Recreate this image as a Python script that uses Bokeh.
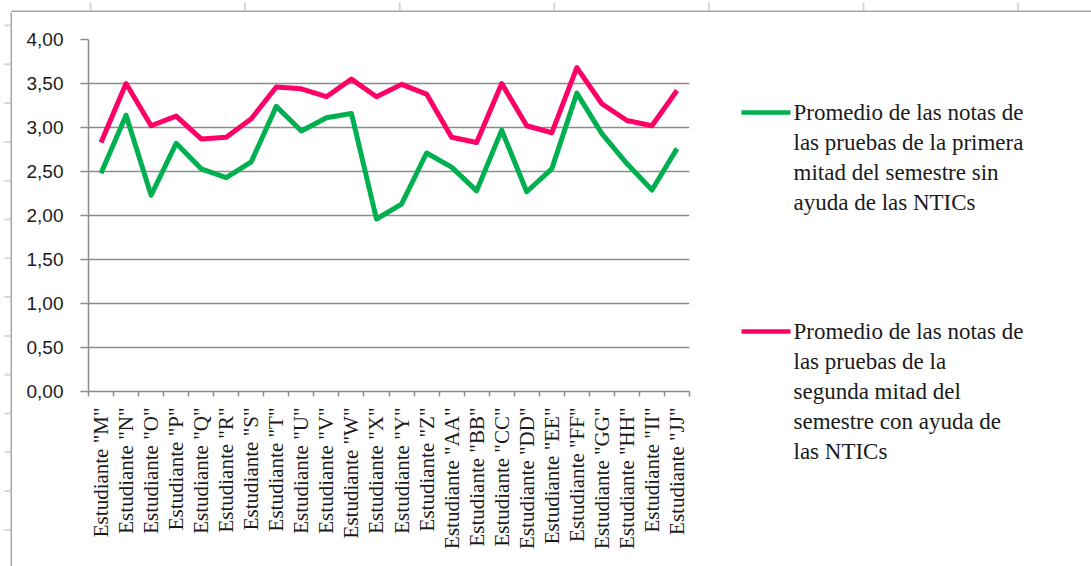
import math

from bokeh.plotting import figure
from bokeh.layouts import column, row
from bokeh.models import FixedTicker, Grid, LinearAxis, Range1d
from bokeh.core.properties import value
from bokeh.embed import file_html
from bokeh.resources import INLINE

# ---- data -------------------------------------------------------------
students = ["M", "N", "O", "P", "Q", "R", "S", "T", "U", "V", "W", "X",
            "Y", "Z", "AA", "BB", "CC", "DD", "EE", "FF", "GG", "HH", "II", "JJ"]
category_labels = [f'Estudiante "{s}"' for s in students]

# average of the tests, first half of the semester (without NTICs)
first_half = [2.48, 3.14, 2.23, 2.82, 2.53, 2.43, 2.61, 3.24, 2.96, 3.11, 3.16, 1.96,
              2.13, 2.71, 2.55, 2.28, 2.97, 2.27, 2.53, 3.39, 2.93, 2.59, 2.29, 2.76]
# average of the tests, second half of the semester (with NTICs)
second_half = [2.83, 3.50, 3.02, 3.13, 2.87, 2.89, 3.10, 3.46, 3.44, 3.35, 3.55, 3.35,
               3.49, 3.38, 2.89, 2.83, 3.50, 3.02, 2.94, 3.68, 3.27, 3.08, 3.02, 3.42]

series_names = [
    ["Promedio de las notas de", "las pruebas de la primera",
     "mitad del semestre sin", "ayuda de las NTICs"],
    ["Promedio de las notas de", "las pruebas de la",
     "segunda mitad del", "semestre con ayuda de", "las NTICs"],
]
series_colors = ["#00b050", "#ff0066"]

y_ticks = [0.0, 0.5, 1.0, 1.5, 2.0, 2.5, 3.0, 3.5, 4.0]
y_tick_labels = ["0,00", "0,50", "1,00", "1,50", "2,00", "2,50", "3,00", "3,50", "4,00"]

# ---- styling ----------------------------------------------------------
GRAY = "#8c8c8c"
FRAME = "#a6a6a6"
TEXT = "#1a1a1a"
SHEET = "#cdd6e8"
SERIF = "Liberation Serif"
SANS = "Liberation Sans"

PAGE_W, PAGE_H = 1091, 566
EDGE = 12          # worksheet strip along the top and left
MAIN_W = 700       # width of the chart panel


def blank(width, height, x_range, y_range):
    f = figure(width=width, height=height, output_backend="svg", toolbar_location=None,
               x_range=x_range, y_range=y_range, x_axis_type=None, y_axis_type=None,
               min_border=0, frame_align=False)
    f.outline_line_color = None
    f.background_fill_color = "white"
    f.border_fill_color = "white"
    return f


# ---- chart panel --------------------------------------------------------
x_idx = list(range(len(students)))

p = figure(width=MAIN_W, height=PAGE_H - EDGE, output_backend="svg", toolbar_location=None,
           x_range=Range1d(-0.5, len(students) - 0.5), y_range=Range1d(0, 4),
           x_axis_type=None, y_axis_type=None, frame_align=False,
           min_border_left=76, min_border_right=23,
           min_border_top=27, min_border_bottom=175)
p.outline_line_color = None
p.background_fill_color = "white"
p.border_fill_color = "white"

# category axis: labels centred on each student, ticks between them
xaxis = LinearAxis(
    ticker=FixedTicker(ticks=x_idx, minor_ticks=[i - 0.5 for i in range(len(students) + 1)]),
    major_label_overrides={i: lab for i, lab in enumerate(category_labels)},
    major_label_orientation=math.pi / 2,
    major_label_text_font=SERIF, major_label_text_font_size="21px",
    major_label_text_color=TEXT, major_label_standoff=11,
    major_tick_line_color=None, major_tick_in=0, major_tick_out=0,
    minor_tick_line_color=GRAY, minor_tick_line_width=1.5,
    minor_tick_in=0, minor_tick_out=5,
    axis_line_color=GRAY, axis_line_width=1.5,
)
p.add_layout(xaxis, "below")

yaxis = LinearAxis(
    ticker=FixedTicker(ticks=y_ticks, minor_ticks=[]),
    major_label_overrides={v: s for v, s in zip(y_ticks, y_tick_labels)},
    major_label_text_font=SANS, major_label_text_font_size="19px",
    major_label_text_color=TEXT, major_label_standoff=17,
    major_tick_line_color=GRAY, major_tick_line_width=1.5,
    major_tick_in=0, major_tick_out=8,
    axis_line_color=GRAY, axis_line_width=1.5,
)
p.add_layout(yaxis, "left")
p.add_layout(Grid(dimension=1, ticker=yaxis.ticker,
                  grid_line_color=GRAY, grid_line_width=1.5))

for values, color in zip([first_half, second_half], series_colors):
    p.line(x_idx, values, line_color=color, line_width=5, line_join="round")

# ---- legend panel (page pixel coordinates) ------------------------------
leg = blank(PAGE_W - EDGE - MAIN_W, PAGE_H - EDGE,
            Range1d(EDGE + MAIN_W, PAGE_W), Range1d(PAGE_H, EDGE))
legend_tops = [112, 331]
legend_first_baseline = [112, 331]
for top, base, lines, color in zip(legend_tops, legend_first_baseline,
                                   series_names, series_colors):
    leg.line([741, 790], [top, top], line_color=color, line_width=4.5)
    leg.text(x=[793] * len(lines), y=[base + 30 * i for i in range(len(lines))],
             text=lines, text_font=value(SERIF), text_font_size=value("23px"),
             text_color=TEXT, text_baseline="alphabetic", text_align="left")

# ---- worksheet strips -----------------------------------------------------
top_strip = blank(PAGE_W, EDGE, Range1d(0, PAGE_W), Range1d(EDGE, 0))
top_strip.segment(x0=[90 + 154.6 * k for k in range(7)], y0=[2] * 7,
                  x1=[90 + 154.6 * k for k in range(7)], y1=[10] * 7,
                  line_color=SHEET, line_width=2)
top_strip.line([11, PAGE_W], [11, 11], line_color=FRAME, line_width=2)

left_strip = blank(EDGE, PAGE_H - EDGE, Range1d(0, EDGE), Range1d(PAGE_H, EDGE))
ys = [25 + 38.8 * k for k in range(14) if 25 + 38.8 * k > EDGE]
left_strip.segment(x0=[4] * len(ys), y0=ys, x1=[10] * len(ys), y1=ys,
                   line_color=SHEET, line_width=2)
left_strip.line([11, 11], [EDGE, PAGE_H], line_color=FRAME, line_width=2)
# the two strips meet at the corner
top_strip.line([11, 11], [11, EDGE], line_color=FRAME, line_width=2)

layout = column(top_strip, row(left_strip, p, leg))
open("out.html", "w").write(file_html(layout, INLINE))
